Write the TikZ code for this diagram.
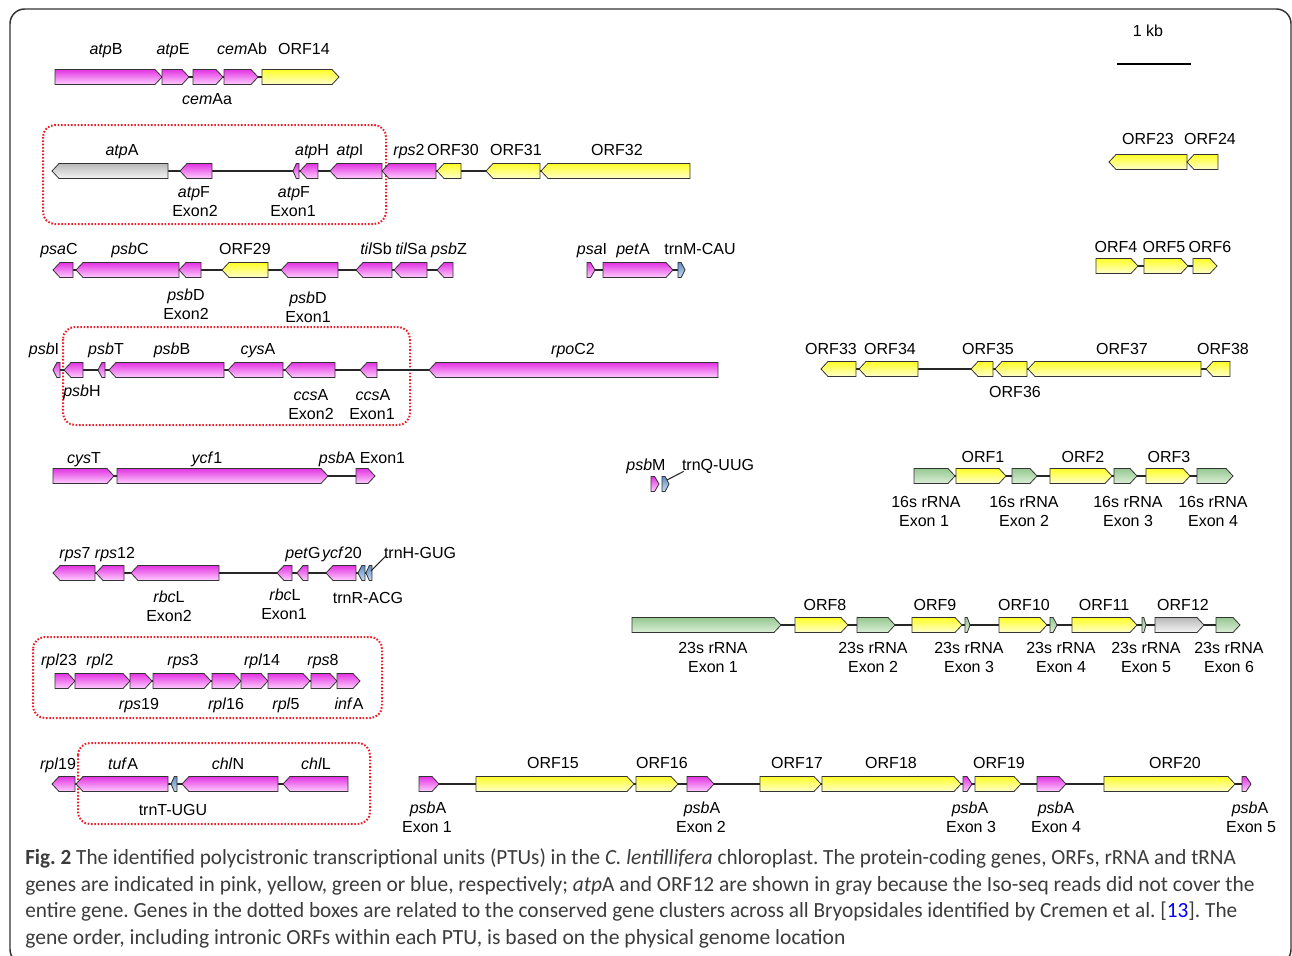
\documentclass[tikz,border=0pt]{standalone}
\usepackage{fontspec}
\usepackage{graphicx}
\setmainfont{Liberation Sans}
\newfontfamily\capfont{Carlito}
\frenchspacing
\definecolor{pkT}{RGB}{226,52,226}
\definecolor{pkB}{RGB}{255,205,255}
\definecolor{ylT}{RGB}{255,255,40}
\definecolor{ylB}{RGB}{255,255,205}
\definecolor{gnT}{RGB}{150,200,145}
\definecolor{gnB}{RGB}{220,238,216}
\definecolor{gyT}{RGB}{185,185,185}
\definecolor{gyB}{RGB}{245,245,245}
\definecolor{blT}{RGB}{95,140,195}
\definecolor{blB}{RGB}{200,220,245}
\definecolor{capgray}{RGB}{60,60,60}
\definecolor{dotred}{RGB}{235,30,40}
\newcounter{lc}
\newcommand\lab[3]{\stepcounter{lc}\node[lab] (n\arabic{lc}) at (#1,#2) {#3};}
\newcommand\labn[4]{\node[lab] (#1) at (#2,#3) {#4};}
\newcommand\gR[4]{%
  \pgfmathsetmacro\hd{min(7,0.55*((#2)-(#1)))}%
  \draw[gene,#4] (#1,#3-7.5) -- ({#2-\hd},#3-7.5) -- (#2,#3) -- ({#2-\hd},#3+7.5) -- (#1,#3+7.5) -- cycle;}
\newcommand\gL[4]{%
  \pgfmathsetmacro\hd{min(7,0.55*((#2)-(#1)))}%
  \draw[gene,#4] (#1,#3) -- ({#1+\hd},#3-7.5) -- (#2,#3-7.5) -- (#2,#3+7.5) -- ({#1+\hd},#3+7.5) -- cycle;}
\newsavebox\capbox
\newcommand\fitline[2]{\sbox\capbox{#2}\pgfmathsetmacro\capsc{#1/\wd\capbox}\scalebox{\capsc}[1]{\usebox\capbox}}
\begin{document}
\begin{tikzpicture}[x=0.75pt,y=-0.75pt,
  gene/.style={draw=black!80,line width=0.6pt,line join=miter},
  pk/.style={top color=pkT,bottom color=pkB},
  yl/.style={top color=ylT,bottom color=ylB},
  gn/.style={top color=gnT,bottom color=gnB},
  gy/.style={top color=gyT,bottom color=gyB},
  bl/.style={top color=blT,bottom color=blB},
  bb/.style={draw=black!85,line width=1.5pt},
  lab/.style={anchor=base,inner sep=0pt,font=\fontsize{12}{14}\selectfont},
  redbox/.style={draw=dotred,line width=1.5pt,dash pattern=on 1.2pt off 1.3pt,rounded corners=9pt},
  captext/.style={anchor=base west,inner sep=0pt,text=capgray,font=\capfont\fontsize{16.2}{19}\selectfont}]
\useasboundingbox (0,0) rectangle (1292,956);
\fill[white] (0,0) rectangle (1292,956);
\draw[black!80,line width=1.1pt,rounded corners=11pt] (10,9) rectangle (1291,964);

% scale bar
\lab{1148}{37}{1 kb}
\draw[line width=2pt] (1117,64) -- (1191,64);

% ---------- Row 1
\draw[bb] (55,77) -- (339,77);
\gR{55}{162}{77}{pk}\gR{162}{189}{77}{pk}\gR{193}{223}{77}{pk}\gR{224}{258}{77}{pk}\gR{262}{339}{77}{yl}
\lab{106}{55}{\textit{atp}B}\lab{173}{55}{\textit{atp}E}\lab{242}{55}{\textit{cem}Ab}\lab{304}{55}{ORF14}
\lab{207}{104}{\textit{cem}Aa}

% ---------- Row 2
\draw[redbox] (43,125) rectangle (386,224);
\draw[bb] (52,171) -- (690,171);
\gL{52}{168}{171}{gy}\gL{180}{212}{171}{pk}\gL{293}{299}{171}{pk}\gL{300}{318}{171}{pk}
\gL{330}{382}{171}{pk}\gL{382}{436}{171}{pk}\gL{437}{461}{171}{yl}\gL{486}{540}{171}{yl}\gL{541}{690}{171}{yl}
\lab{122}{155}{\textit{atp}A}\lab{312}{155}{\textit{atp}H}\lab{350}{155}{\textit{atp}I}
\lab{409}{155}{\textit{rps}2}\lab{453}{155}{ORF30}\lab{516}{155}{ORF31}\lab{617}{155}{ORF32}
\lab{194}{197}{\textit{atp}F}\lab{195}{216}{Exon2}
\lab{294}{197}{\textit{atp}F}\lab{293}{216}{Exon1}

\draw[bb] (1109,162) -- (1218,162);
\gL{1109}{1187}{162}{yl}\gL{1187}{1218}{162}{yl}
\lab{1148}{144}{ORF23}\lab{1210}{144}{ORF24}

% ---------- Row 3
\draw[bb] (53,270) -- (453,270);
\gL{53}{73}{270}{pk}\gL{76}{179}{270}{pk}\gL{179}{201}{270}{pk}\gL{222}{268}{270}{yl}
\gL{281}{338}{270}{pk}\gL{356}{392}{270}{pk}\gL{394}{427}{270}{pk}\gL{437}{453}{270}{pk}
\lab{59}{254}{\textit{psa}C}\lab{130}{254}{\textit{psb}C}\lab{245}{254}{ORF29}
\lab{376}{254}{\textit{til}Sb}\lab{411}{254}{\textit{til}Sa}\lab{449}{254}{\textit{psb}Z}
\lab{186}{300}{\textit{psb}D}\lab{186}{319}{Exon2}
\lab{308}{303}{\textit{psb}D}\lab{308}{322}{Exon1}

\draw[bb] (587,270) -- (685,270);
\gR{587}{595}{270}{pk}\gR{603}{673}{270}{pk}\gR{678}{685}{270}{bl}
\lab{592}{254}{\textit{psa}I}\lab{633}{254}{\textit{pet}A}\lab{700}{254}{trnM-CAU}

\draw[bb] (1096,266) -- (1217,266);
\gR{1096}{1138}{266}{yl}\gR{1144}{1188}{266}{yl}\gR{1193}{1217}{266}{yl}
\lab{1116}{252}{ORF4}\lab{1164}{252}{ORF5}\lab{1210}{252}{ORF6}

% ---------- Row 4
\draw[redbox] (63,327) rectangle (410,425);
\draw[bb] (53,370) -- (718,370);
\gL{53}{60}{370}{pk}\gL{64}{83}{370}{pk}\gL{98}{105}{370}{pk}\gL{109}{224}{370}{pk}
\gL{228}{283}{370}{pk}\gL{285}{335}{370}{pk}\gL{360}{377}{370}{pk}\gL{429}{718}{370}{pk}
\lab{44}{354}{\textit{psb}I}\lab{106}{354}{\textit{psb}T}\lab{172}{354}{\textit{psb}B}
\lab{258}{354}{\textit{cys}A}\lab{573}{354}{\textit{rpo}C2}
\lab{82}{396}{\textit{psb}H}
\lab{311}{400}{\textit{ccs}A}\lab{311}{419}{Exon2}
\lab{373}{400}{\textit{ccs}A}\lab{372}{419}{Exon1}

\draw[bb] (821,369) -- (1230,369);
\gL{821}{856}{369}{yl}\gL{859}{918}{369}{yl}\gL{971}{993}{369}{yl}\gL{995}{1027}{369}{yl}
\gL{1028}{1201}{369}{yl}\gL{1206}{1230}{369}{yl}
\lab{831}{354}{ORF33}\lab{890}{354}{ORF34}\lab{988}{354}{ORF35}\lab{1122}{354}{ORF37}
\lab{1223}{354}{ORF38}\lab{1015}{397}{ORF36}

% ---------- Row 5
\draw[bb] (53,476) -- (375,476);
\gR{53}{114}{476}{pk}\gR{117}{328}{476}{pk}\gR{356}{375}{476}{pk}
\lab{84}{463}{\textit{cys}T}\lab{207}{463}{\textit{ycf}1}\lab{362}{463}{\textit{psb}A Exon1}

\gR{651}{659}{484}{pk}\gR{662}{669}{484}{bl}
\coordinate (qQ) at (667,480);
\lab{646}{470}{\textit{psb}M}\labn{trnQ}{718}{470}{trnQ-UUG}
\draw[black!85,line width=0.8pt] (qQ) -- ([shift={(1.5pt,-1pt)}]trnQ.base west);

\draw[bb] (914,476) -- (1233,476);
\gR{914}{955}{476}{gn}\gR{956}{1006}{476}{yl}\gR{1012}{1037}{476}{gn}\gR{1050}{1112}{476}{yl}
\gR{1114}{1137}{476}{gn}\gR{1146}{1190}{476}{yl}\gR{1197}{1233}{476}{gn}
\lab{983}{462}{ORF1}\lab{1083}{462}{ORF2}\lab{1169}{462}{ORF3}
\lab{926}{507}{16s rRNA}\lab{924}{526}{Exon 1}
\lab{1024}{507}{16s rRNA}\lab{1024}{526}{Exon 2}
\lab{1128}{507}{16s rRNA}\lab{1128}{526}{Exon 3}
\lab{1213}{507}{16s rRNA}\lab{1213}{526}{Exon 4}

% ---------- Row 6
\draw[bb] (53,573) -- (366,573);
\gL{53}{95}{573}{pk}\gL{96}{124}{573}{pk}\gL{131}{219}{573}{pk}\gL{277}{292}{573}{pk}
\gL{297}{308}{573}{pk}\gL{326}{356}{573}{pk}\gL{358}{365}{573}{bl}\gL{366}{372}{573}{bl}
\coordinate (hH) at (371,571);
\lab{75}{558}{\textit{rps}7}\lab{115}{558}{\textit{rps}12}\lab{303}{558}{\textit{pet}G}
\lab{342}{558}{\textit{ycf}20}\labn{trnH}{420}{558}{trnH-GUG}
\draw[black!85,line width=0.8pt] (hH) -- ([shift={(2pt,2pt)}]trnH.base west);
\lab{169}{602}{\textit{rbc}L}\lab{169}{621}{Exon2}
\lab{285}{600}{\textit{rbc}L}\lab{284}{619}{Exon1}
\lab{368}{603}{trnR-ACG}

% ---------- 23s row
\draw[bb] (632,625) -- (1240,625);
\gR{632}{781}{625}{gn}\gR{795}{848}{625}{yl}\gR{857}{895}{625}{gn}\gR{912}{962}{625}{yl}
\gR{965}{970}{625}{gn}\gR{999}{1047}{625}{yl}\gR{1050}{1057}{625}{gn}\gR{1072}{1137}{625}{yl}
\gR{1142}{1146}{625}{gn}\gR{1155}{1204}{625}{gy}\gR{1216}{1240}{625}{gn}
\lab{825}{610}{ORF8}\lab{935}{610}{ORF9}\lab{1024}{610}{ORF10}\lab{1104}{610}{ORF11}\lab{1183}{610}{ORF12}
\lab{713}{653}{23s rRNA}\lab{713}{672}{Exon 1}
\lab{873}{653}{23s rRNA}\lab{873}{672}{Exon 2}
\lab{969}{653}{23s rRNA}\lab{969}{672}{Exon 3}
\lab{1061}{653}{23s rRNA}\lab{1061}{672}{Exon 4}
\lab{1146}{653}{23s rRNA}\lab{1146}{672}{Exon 5}
\lab{1229}{653}{23s rRNA}\lab{1229}{672}{Exon 6}

% ---------- rpl row
\draw[redbox] (33,637) rectangle (382,718);
\draw[bb] (55,681) -- (360,681);
\gR{55}{75}{681}{pk}\gR{75}{130}{681}{pk}\gR{130}{152}{681}{pk}\gR{153}{211}{681}{pk}
\gR{212}{241}{681}{pk}\gR{241}{268}{681}{pk}\gR{268}{310}{681}{pk}\gR{311}{337}{681}{pk}\gR{337}{360}{681}{pk}
\lab{59}{665}{\textit{rpl}23}\lab{100}{665}{\textit{rpl}2}\lab{183}{665}{\textit{rps}3}
\lab{262}{665}{\textit{rpl}14}\lab{323}{665}{\textit{rps}8}
\lab{139}{709}{\textit{rps}19}\lab{226}{709}{\textit{rpl}16}\lab{286}{709}{\textit{rpl}5}\lab{349}{709}{\textit{inf}A}

% ---------- last row left
\draw[redbox] (78,743) rectangle (370,824);
\draw[bb] (52,784) -- (348,784);
\gL{52}{75}{784}{pk}\gL{76}{168}{784}{pk}\gL{171}{177}{784}{bl}\gL{182}{278}{784}{pk}\gL{283}{348}{784}{pk}
\lab{58}{769}{\textit{rpl}19}\lab{123}{769}{\textit{tuf}A}\lab{228}{769}{\textit{chl}N}\lab{316}{769}{\textit{chl}L}
\lab{173}{815}{trnT-UGU}

% ---------- psbA row
\draw[bb] (419,784) -- (1251,784);
\gR{419}{439}{784}{pk}\gR{476}{634}{784}{yl}\gR{636}{678}{784}{yl}\gR{687}{714}{784}{pk}
\gR{760}{821}{784}{yl}\gR{822}{961}{784}{yl}\gR{963}{972}{784}{pk}\gR{975}{1021}{784}{yl}
\gR{1037}{1066}{784}{pk}\gR{1104}{1235}{784}{yl}\gR{1242}{1251}{784}{pk}
\lab{553}{768}{ORF15}\lab{662}{768}{ORF16}\lab{797}{768}{ORF17}\lab{891}{768}{ORF18}
\lab{999}{768}{ORF19}\lab{1175}{768}{ORF20}
\lab{428}{813}{\textit{psb}A}\lab{427}{832}{Exon 1}
\lab{702}{813}{\textit{psb}A}\lab{701}{832}{Exon 2}
\lab{970}{813}{\textit{psb}A}\lab{971}{832}{Exon 3}
\lab{1056}{813}{\textit{psb}A}\lab{1056}{832}{Exon 4}
\lab{1250}{813}{\textit{psb}A}\lab{1251}{832}{Exon 5}

% ---------- caption
\node[captext] (c1) at (25,864) {\fitline{908}{\textbf{Fig. 2} The identified polycistronic transcriptional units (PTUs) in the \textit{C. lentillifera} chloroplast. The protein-coding genes, ORFs, rRNA and tRNA}};
\node[captext] (c2) at (25,891) {\fitline{922}{genes are indicated in pink, yellow, green or blue, respectively; \textit{atp}A and ORF12 are shown in gray because the Iso-seq reads did not cover the}};
\node[captext] (c3) at (25,917) {\fitline{909}{entire gene. Genes in the dotted boxes are related to the conserved gene clusters across all Bryopsidales identified by Cremen et al. [{\color{blue}13}]. The}};
\node[captext] (c4) at (25,944) {gene order, including intronic ORFs within each PTU, is based on the physical genome location};
\end{tikzpicture}
\end{document}
